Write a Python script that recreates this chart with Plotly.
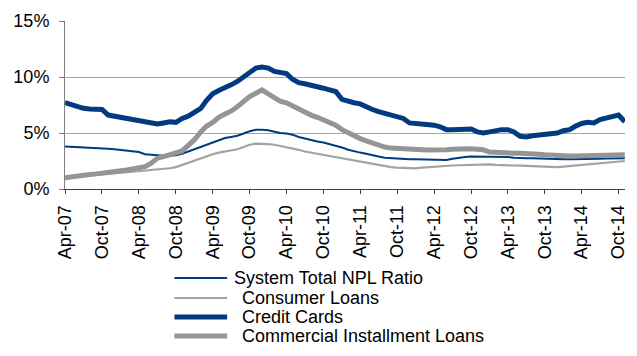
import pandas as pd
import plotly.graph_objects as go

# ---- data (monthly, Apr-2007 .. Nov-2014), values in % ----
start_month = "2007-04-01"
series_names = ["System Total NPL Ratio", "Consumer Loans", "Credit Cards",
                "Commercial Installment Loans"]

system_total = [
    3.8, 3.78, 3.75, 3.72, 3.7, 3.67, 3.63, 3.6, 3.55, 3.5,
    3.45, 3.4, 3.3, 3.1, 3.05, 3.0, 2.97, 2.97, 3.02, 3.15,
    3.35, 3.55, 3.75, 4.0, 4.2, 4.4, 4.55, 4.65, 4.75, 4.95,
    5.15, 5.28, 5.3, 5.25, 5.1, 5.0, 4.95, 4.85, 4.65, 4.5,
    4.35, 4.25, 4.15, 4.0, 3.9, 3.7, 3.5, 3.35, 3.25, 3.15,
    3.0, 2.9, 2.8, 2.75, 2.7, 2.65, 2.65, 2.65, 2.65, 2.65,
    2.65, 2.62, 2.6, 2.7, 2.8, 2.85, 2.9, 2.9, 2.9, 2.9,
    2.9, 2.9, 2.85, 2.8, 2.75, 2.75, 2.75, 2.72, 2.7, 2.68,
    2.65, 2.65, 2.65, 2.65, 2.65, 2.65, 2.68, 2.7, 2.72, 2.75,
    2.75, 2.75]

consumer_loans = [
    1.0, 1.05, 1.1, 1.15, 1.2, 1.22, 1.25, 1.3, 1.35, 1.4,
    1.45, 1.5, 1.55, 1.6, 1.65, 1.7, 1.75, 1.85, 1.95, 2.15,
    2.35, 2.55, 2.75, 2.95, 3.1, 3.25, 3.35, 3.45, 3.55, 3.75,
    3.95, 4.05, 4.05, 4.0, 3.95, 3.85, 3.75, 3.65, 3.5, 3.35,
    3.25, 3.15, 3.05, 2.95, 2.85, 2.7, 2.6, 2.5, 2.42, 2.35,
    2.25, 2.15, 2.05, 1.95, 1.9, 1.88, 1.85, 1.85, 1.9, 1.95,
    2.0, 2.0, 2.05, 2.1, 2.12, 2.14, 2.15, 2.2, 2.2, 2.2,
    2.15, 2.15, 2.1, 2.1, 2.08, 2.06, 2.05, 2.02, 2.0, 2.0,
    1.95, 2.0, 2.05, 2.15, 2.2, 2.25, 2.3, 2.32, 2.35, 2.4,
    2.45, 2.5]

credit_cards = [
    7.7, 7.5, 7.35, 7.2, 7.15, 7.1, 7.1, 6.6, 6.5, 6.45,
    6.4, 6.2, 6.1, 6.0, 5.95, 5.8, 5.9, 6.0, 5.95, 6.3,
    6.5, 6.8, 7.2, 7.9, 8.5, 8.8, 9.0, 9.3, 9.6, 10.0,
    10.3, 10.8, 10.9, 10.8, 10.5, 10.35, 10.3, 9.8, 9.5, 9.4,
    9.3, 9.15, 9.0, 8.85, 8.7, 8.0, 7.8, 7.7, 7.6, 7.3,
    7.1, 6.9, 6.75, 6.6, 6.5, 6.3, 5.9, 5.85, 5.85, 5.8,
    5.7, 5.55, 5.3, 5.3, 5.35, 5.3, 5.35, 5.1, 5.0, 5.1,
    5.25, 5.3, 5.3, 5.1, 4.7, 4.65, 4.75, 4.8, 4.85, 4.9,
    5.0, 5.2, 5.3, 5.6, 5.85, 5.95, 5.9, 6.2, 6.3, 6.5,
    6.6, 6.0]

commercial_installment = [
    1.0, 1.1, 1.2, 1.25, 1.3, 1.35, 1.4, 1.45, 1.5, 1.6,
    1.7, 1.8, 1.9, 2.0, 2.3, 2.75, 2.9, 3.05, 3.15, 3.4,
    3.9, 4.4, 5.1, 5.6, 5.95, 6.4, 6.7, 6.95, 7.35, 7.85,
    8.25, 8.55, 8.85, 8.5, 8.1, 7.85, 7.7, 7.4, 7.1, 6.9,
    6.6, 6.4, 6.2, 6.0, 5.7, 5.3, 5.0, 4.75, 4.5, 4.3,
    4.1, 3.9, 3.75, 3.65, 3.6, 3.55, 3.5, 3.5, 3.5, 3.48,
    3.45, 3.45, 3.5, 3.55, 3.6, 3.65, 3.6, 3.55, 3.5, 3.3,
    3.25, 3.25, 3.22, 3.2, 3.2, 3.2, 3.15, 3.1, 3.05, 3.0,
    2.95, 2.95, 2.95, 2.95, 2.95, 2.95, 2.95, 2.95, 3.0, 3.0,
    3.05, 3.05]

y_ticks = [0, 5, 10, 15]
y_tick_labels = ["0%", "5%", "10%", "15%"]

dates = pd.date_range(start_month, periods=len(credit_cards), freq="MS")

# ---- styles ----
BLUE = "#003B80"
GRAY_THICK = "#959595"
GRAY_THIN = "#A3A3A3"
styles = [
    dict(color=BLUE, width=2),
    dict(color=GRAY_THIN, width=2.2),
    dict(color=BLUE, width=5),
    dict(color=GRAY_THICK, width=5),
]
values = [system_total, consumer_loans, credit_cards, commercial_installment]
FONT = "Liberation Sans, Arial, sans-serif"

fig = go.Figure()
for name, vals, st in zip(series_names, values, styles):
    fig.add_trace(go.Scatter(x=dates, y=vals, mode="lines", name=name,
                             line=st, showlegend=False))

W, H = 637, 356
L, R, T, B = 65, 628, 21, 189

def px_x(px):
    return (px - L) / (R - L)

def px_y(py):
    return (B - py) / (B - T)

# manual legend (lines + text)
rows_y = [278, 298, 317, 336]
text_x = [233, 241, 241, 241]
for name, st, ry, tx in zip(series_names, styles, rows_y, text_x):
    fig.add_shape(type="line", xref="paper", yref="paper",
                  x0=px_x(175), x1=px_x(228), y0=px_y(ry), y1=px_y(ry),
                  line=dict(color=st["color"], width=st["width"]))
    fig.add_annotation(text=name, xref="paper", yref="paper",
                       x=px_x(tx), y=px_y(ry), xanchor="left", yanchor="middle",
                       showarrow=False, font=dict(family=FONT, size=18, color="#000"))

fig.update_layout(
    width=W, height=H,
    margin=dict(l=L, r=W - R, t=T, b=H - B, pad=0),
    paper_bgcolor="white", plot_bgcolor="white",
    font=dict(family=FONT, size=18, color="#000"),
)
fig.update_xaxes(
    type="date", range=[start_month, "2014-11-02"],
    tick0=start_month, dtick="M6", tickformat="%b-%y", tickangle=-90,
    ticks="outside", ticklen=4, tickcolor="#404040",
    showline=True, linecolor="#404040", linewidth=1,
    showgrid=False, zeroline=False, ticklabelstandoff=4,
    tickfont=dict(family=FONT, size=18, color="#000"),
)
fig.update_yaxes(
    range=[0, 15], tickvals=y_ticks, ticktext=y_tick_labels,
    ticks="outside", ticklen=5, tickcolor="#808080",
    showline=True, linecolor="#808080", linewidth=1,
    showgrid=True, gridcolor="#A6A6A6", gridwidth=1, zeroline=False,
    ticklabelstandoff=6,
    tickfont=dict(family=FONT, size=18, color="#000"),
)

fig.write_html("out.html")
